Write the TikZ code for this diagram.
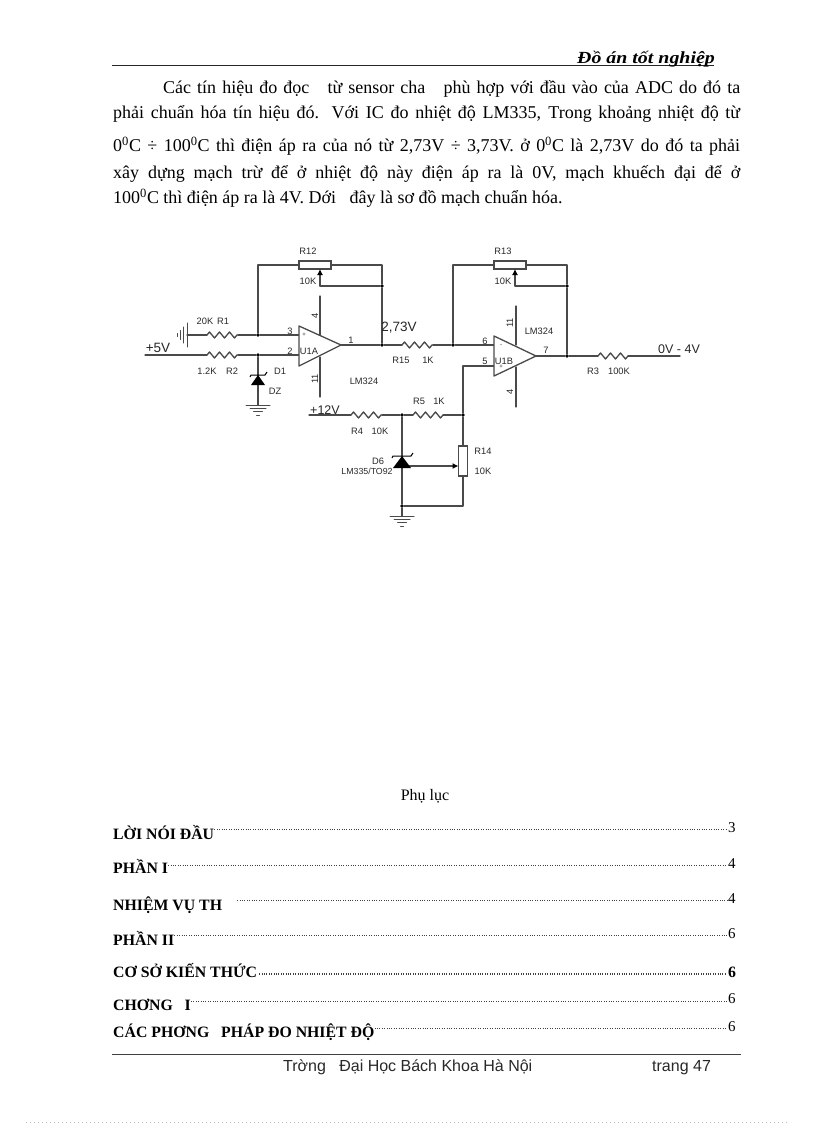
\documentclass[tikz,border=0pt]{standalone}
\usepackage{fontspec}
\setmainfont{Liberation Serif}
\newfontfamily\lsans{Liberation Sans}
\usetikzlibrary{decorations.pathmorphing,arrows.meta,calc}
\definecolor{wirec}{HTML}{4A4A4A}
\definecolor{labc}{HTML}{282828}
\tikzset{
  x=1pt,y=1pt,
  wire/.style={draw=wirec,line width=1.3pt,line cap=round,line join=round},
  res/.style={wire,decorate,decoration={zigzag,segment length=10pt,amplitude=3pt}},
  wiper/.style={wire,-{Latex[length=6pt,width=6pt,black]}},
  pot/.style={draw=wirec,line width=1.3pt,fill=white,inner sep=0,minimum width=32pt,minimum height=8pt},
  potv/.style={pot,minimum width=9pt,minimum height=30pt},
  jdot/.style={circle,fill=black,inner sep=0,minimum size=3.8pt},
  lab/.style={inner sep=0,text=labc,font=\lsans\fontsize{9.3}{10}\selectfont},
  bigl/.style={inner sep=0,text=labc,font=\lsans\fontsize{12.5}{14}\selectfont},
  bigm/.style={inner sep=0,text=labc,font=\lsans\fontsize{13.5}{15}\selectfont},
  bodyl/.style={anchor=base west,inner sep=0,font=\fontsize{18}{20}\selectfont},
  tocl/.style={anchor=base west,inner sep=0,font=\bfseries\fontsize{15.8}{17}\selectfont},
  tocn/.style={anchor=base west,inner sep=0,font=\fontsize{15}{17}\selectfont},
  leaderl/.style={draw=black!75,line width=.7pt,dash pattern=on .8pt off 1.6pt},
  foot/.style={anchor=base west,inner sep=0,text=labc,font=\lsans\fontsize{16}{18}\selectfont},
  gndd/.pic={\draw[wire,line width=1pt] (-12,0)--(12,0) (-8,-3.4)--(8,-3.4) (-4.5,-6.8)--(4.5,-6.8) (-1.5,-10)--(1.5,-10);},
  zener/.pic={\fill[black] (0,0)--(-#1,-#1-3)--(#1,-#1-3)--cycle;
    \draw[black,line width=1pt] (-#1-1,-2)--(-#1,0)--(#1,0)--(#1+2,3);},
}
\begin{document}
\begin{tikzpicture}
\useasboundingbox (0,0) rectangle (816,-1123);
\fill[white] (0,0) rectangle (816,-1123);

% ---- header
\coordinate (hl) at (112,-65.5); \coordinate (hr) at (714,-65.5);
\draw[draw=black!85,line width=.9pt] (hl)--(hr);
\node[anchor=base east,inner sep=0,font=\bfseries\itshape\fontsize{17}{18}\selectfont] (head) at (715,-64) {\scalebox{1.17}[1]{Đồ án tốt nghiệp}};

% ---- body text
\node[bodyl] (b1) at (163,-94) {\makebox[577pt][s]{Các tín hiệu đo đọc ~~từ sensor cha ~~phù hợp với đầu vào của ADC do đó ta}};
\node[bodyl] (b2) at (113,-119) {\makebox[627pt][s]{phải chuẩn hóa tín hiệu đó. Với IC đo nhiệt độ LM335, Trong khoảng nhiệt độ từ}};
\node[bodyl] (b3) at (113,-152) {\makebox[627pt][s]{0\textsuperscript{0}C ÷ 100\textsuperscript{0}C thì điện áp ra của nó từ 2,73V ÷ 3,73V. ở 0\textsuperscript{0}C là 2,73V do đó ta phải}};
\node[bodyl] (b4) at (113,-179) {\makebox[627pt][s]{xây dựng mạch trừ để ở nhiệt độ này điện áp ra là 0V, mạch khuếch đại để ở}};
\node[bodyl] (b5) at (113,-204) {100\textsuperscript{0}C thì điện áp ra là 4V. Dới ~~đây là sơ đồ mạch chuẩn hóa.};

% ---- circuit coordinates
\coordinate (in5) at (145,-355);
\coordinate (g1) at (187,-335);
\coordinate (r1a) at (207,-335); \coordinate (r1b) at (238,-335);
\coordinate (r2a) at (207,-355); \coordinate (r2b) at (238,-355);
\node[jdot] (j1) at (258,-335) {};
\node[jdot] (j2) at (258,-355) {};
\coordinate (tl1) at (258,-265);
\node[pot] (R12) at (315,-265) {};
\coordinate (tr1) at (382,-265);
\coordinate (wp1) at (320,-269);
\coordinate (wc1) at (320,-286);
\node[jdot] (j3) at (382,-286) {};
\node[jdot] (j4) at (382,-345) {};
\coordinate (a1t) at (299,-326); \coordinate (a1b) at (299,-366); \coordinate (a1o) at (341,-345);
\coordinate (a1p) at (299,-335); \coordinate (a1m) at (299,-355);
\coordinate (d1t) at (258,-375); \coordinate (g2) at (258,-405);
\coordinate (r15a) at (402,-345); \coordinate (r15b) at (433,-345);
\node[jdot] (j5) at (453,-345) {};
\coordinate (tl2) at (453,-265);
\node[pot] (R13) at (510,-265) {};
\coordinate (tr2) at (567,-265);
\coordinate (wp2) at (515,-269);
\coordinate (wc2) at (515,-286);
\node[jdot] (j6) at (567,-286) {};
\node[jdot] (j7) at (567,-356) {};
\coordinate (a2t) at (494,-336); \coordinate (a2b) at (494,-376); \coordinate (a2o) at (536,-356);
\coordinate (a2m) at (494,-345); \coordinate (a2p) at (494,-366);
\coordinate (r3a) at (598,-356); \coordinate (r3b) at (628,-356);
\coordinate (out) at (680,-356);
\coordinate (c5) at (463,-366);
\coordinate (in12) at (309,-415);
\coordinate (r4a) at (351,-415); \coordinate (r4b) at (382,-415);
\node[jdot] (j8) at (402,-415) {};
\coordinate (r5a) at (413,-415); \coordinate (r5b) at (443,-415);
\node[jdot] (j9) at (463,-415) {};
\node[potv] (R14) at (463,-461) {};
\coordinate (d6t) at (402,-456);
\coordinate (d6w) at (402,-466);
\coordinate (r14w) at (458.5,-466);
\coordinate (c6) at (463,-506);
\node[jdot] (j10) at (402,-506) {};
\coordinate (g3) at (402,-516);

% ---- power pins
\coordinate (p1a) at (320,-296); \coordinate (p1b) at (320,-335);
\coordinate (p1c) at (320,-357); \coordinate (p1d) at (320,-397);
\coordinate (p2a) at (516,-306); \coordinate (p2b) at (516,-345);
\coordinate (p2c) at (516,-367); \coordinate (p2d) at (516,-407);
\draw[wire] (p1a)--(p1b) (p1c)--(p1d) (p2a)--(p2b) (p2c)--(p2d);

% ---- wires
\draw[wire] (g1)--(r1a) (r1b)--(j1)--(a1p);
\draw[wire] (in5)--(r2a) (r2b)--(j2)--(a1m);
\draw[wire] (j1)--(tl1)--(R12.west) (R12.east)--(tr1)--(j3)--(j4);
\draw[wire] (j3)--(wc1);
\draw[wiper] (wc1)--(wp1);
\draw[wire] (a1o)--(j4)--(r15a) (r15b)--(j5)--(a2m);
\draw[wire] (j5)--(tl2)--(R13.west) (R13.east)--(tr2)--(j6)--(j7);
\draw[wire] (j6)--(wc2);
\draw[wiper] (wc2)--(wp2);
\draw[wire] (a2o)--(j7)--(r3a) (r3b)--(out);
\draw[wire] (a2p)--(c5)--(j9);
\draw[wire] (in12)--(r4a) (r4b)--(j8)--(r5a) (r5b)--(j9)--(R14.north);
\draw[wire] (R14.south)--(c6)--(j10);
\draw[wire] (j2)--(d1t) (d1t)--(g2);
\draw[wire] (j8)--(d6t) (d6t)--(j10)--(g3);
\draw[wiper] (d6w)--(r14w);
\draw[res] (r1a)--(r1b);
\draw[res] (r2a)--(r2b);
\draw[res] (r15a)--(r15b);
\draw[res] (r3a)--(r3b);
\draw[res] (r4a)--(r4b);
\draw[res] (r5a)--(r5b);

% ---- op-amps
\draw[wire,fill=white] (a1t)--(a1o)--(a1b)--cycle;
\draw[wire,fill=white] (a2t)--(a2o)--(a2b)--cycle;

% ---- zeners and grounds
\pic at (d1t) {zener=7};
\pic at (d6t) {zener=9};
\pic at (g1) [rotate=-90] {gndd};
\pic at (g2) {gndd};
\pic at (g3) {gndd};

% ---- labels
\node[lab] (tR12) at (308,-251) {R12};
\node[lab] (t10a) at (308,-281) {10K};
\node[lab] (t20k) at (205,-321) {20K};
\node[lab] (tR1) at (223,-321) {R1};
\node[lab] (t12k) at (207,-371) {1.2K};
\node[lab] (tR2) at (232,-371) {R2};
\node[lab] (tD1) at (280,-371) {D1};
\node[lab] (tDZ) at (275,-391) {DZ};
\node[bigm] (t5v) at (158,-348) {+5V};
\node[lab] (n3) at (290,-331) {3};
\node[lab] (n2) at (290,-351) {2};
\node[lab] (n1) at (351,-340) {1};
\node[lab,font=\lsans\fontsize{6}{7}\selectfont] (ip1) at (304,-335) {+};
\node[lab] (tU1A) at (309,-351) {U1A};
\node[lab,rotate=90] (n4a) at (315,-316) {4};
\node[lab,rotate=90] (n11a) at (315,-379) {11};
\node[lab] (tLMa) at (364,-381) {LM324};
\node[bigm] (t273) at (399,-328) {2,73V};
\node[lab] (tR15) at (401,-360) {R15};
\node[lab] (t1ka) at (428,-360) {1K};
\node[lab] (tR13) at (503,-251) {R13};
\node[lab] (t10b) at (503,-281) {10K};
\node[lab,rotate=90] (n11b) at (510,-323) {11};
\node[lab,rotate=90] (n4b) at (510,-392) {4};
\node[lab] (tLMb) at (539,-331) {LM324};
\node[lab] (n6) at (485,-341) {6};
\node[lab] (n5) at (485,-361) {5};
\node[lab] (n7) at (546,-350) {7};
\node[lab] (tU1B) at (504,-361) {U1B};
\node[lab,font=\lsans\fontsize{6}{7}\selectfont] (im2) at (501,-346) {-};
\node[lab,font=\lsans\fontsize{6}{7}\selectfont] (ip2) at (501,-367) {+};
\node[lab] (tR3) at (593,-371) {R3};
\node[lab] (t100k) at (619,-371) {100K};
\node[bigl] (tout) at (679,-349) {0V - 4V};
\node[bigl] (t12v) at (325,-410) {+12V};
\node[lab] (tR5) at (419,-401) {R5};
\node[lab] (t1kb) at (439,-401) {1K};
\node[lab] (tR4) at (357,-431) {R4};
\node[lab] (t10c) at (380,-431) {10K};
\node[lab] (tR14) at (483,-451) {R14};
\node[lab] (t10d) at (483,-471) {10K};
\node[lab] (tD6) at (378,-461) {D6};
\node[lab,font=\lsans\fontsize{8.8}{10}\selectfont] (tLM335) at (367,-471) {LM335/TO92};

% ---- contents
\node[anchor=base,inner sep=0,font=\fontsize{16}{18}\selectfont] (ph) at (425,-800) {Phụ lục};
\node[tocl] (l1) at (113,-839) {LỜI NÓI ĐẦU};
\node[tocl] (l2) at (113,-873) {PHẦN I};
\node[tocl] (l3) at (113,-910) {NHIỆM VỤ TH};
\node[tocl] (l4) at (113,-945) {PHẦN II};
\node[tocl] (l5) at (113,-977) {CƠ SỞ KIẾN THỨC};
\node[tocl] (l6) at (113,-1010) {CHƠNG ~~I};
\node[tocl] (l7) at (113,-1037) {CÁC PHƠNG ~~PHÁP ĐO NHIỆT ĐỘ};
\node[tocn] (p1) at (728,-832) {3};
\node[tocn] (p2) at (728,-868) {4};
\node[tocn] (p3) at (728,-903) {4};
\node[tocn] (p4) at (728,-938) {6};
\node[tocl] (p5) at (728,-977) {6};
\node[tocn] (p6) at (728,-1003) {6};
\node[tocn] (p7) at (728,-1031) {6};
\coordinate (e1) at (727,-829); \coordinate (e2) at (727,-865); \coordinate (e3) at (727,-900);
\coordinate (e4) at (727,-935); \coordinate (e5) at (727,-974); \coordinate (e6) at (727,-1001); \coordinate (e7) at (727,-1028);
\draw[leaderl] (l1.east |- e1)--(e1);
\draw[leaderl] (l2.east |- e2)--(e2);
\draw[leaderl] ($(l3.east |- e3)+(15,0)$)--(e3);
\draw[leaderl] (l4.east |- e4)--(e4);
\draw[leaderl,line width=1.3pt] ($(l5.east |- e5)+(2,0)$)--(e5);
\draw[leaderl] (l6.east |- e6)--(e6);
\draw[leaderl] (l7.east |- e7)--(e7);

% ---- footer
\coordinate (fl) at (112,-1054); \coordinate (fr) at (741,-1054);
\draw[draw=black!75,line width=.9pt] (fl)--(fr);
\node[foot] (f1) at (283,-1071) {Trờng ~~Đại Học Bách Khoa Hà Nội};
\node[foot] (f2) at (652,-1071) {trang 47};

% ---- faint dotted page edge
\coordinate (el) at (26,-1122); \coordinate (er) at (790,-1122);
\draw[draw=black!25,line width=1pt,dash pattern=on 1pt off 3pt] (el)--(er);
\end{tikzpicture}
\end{document}
